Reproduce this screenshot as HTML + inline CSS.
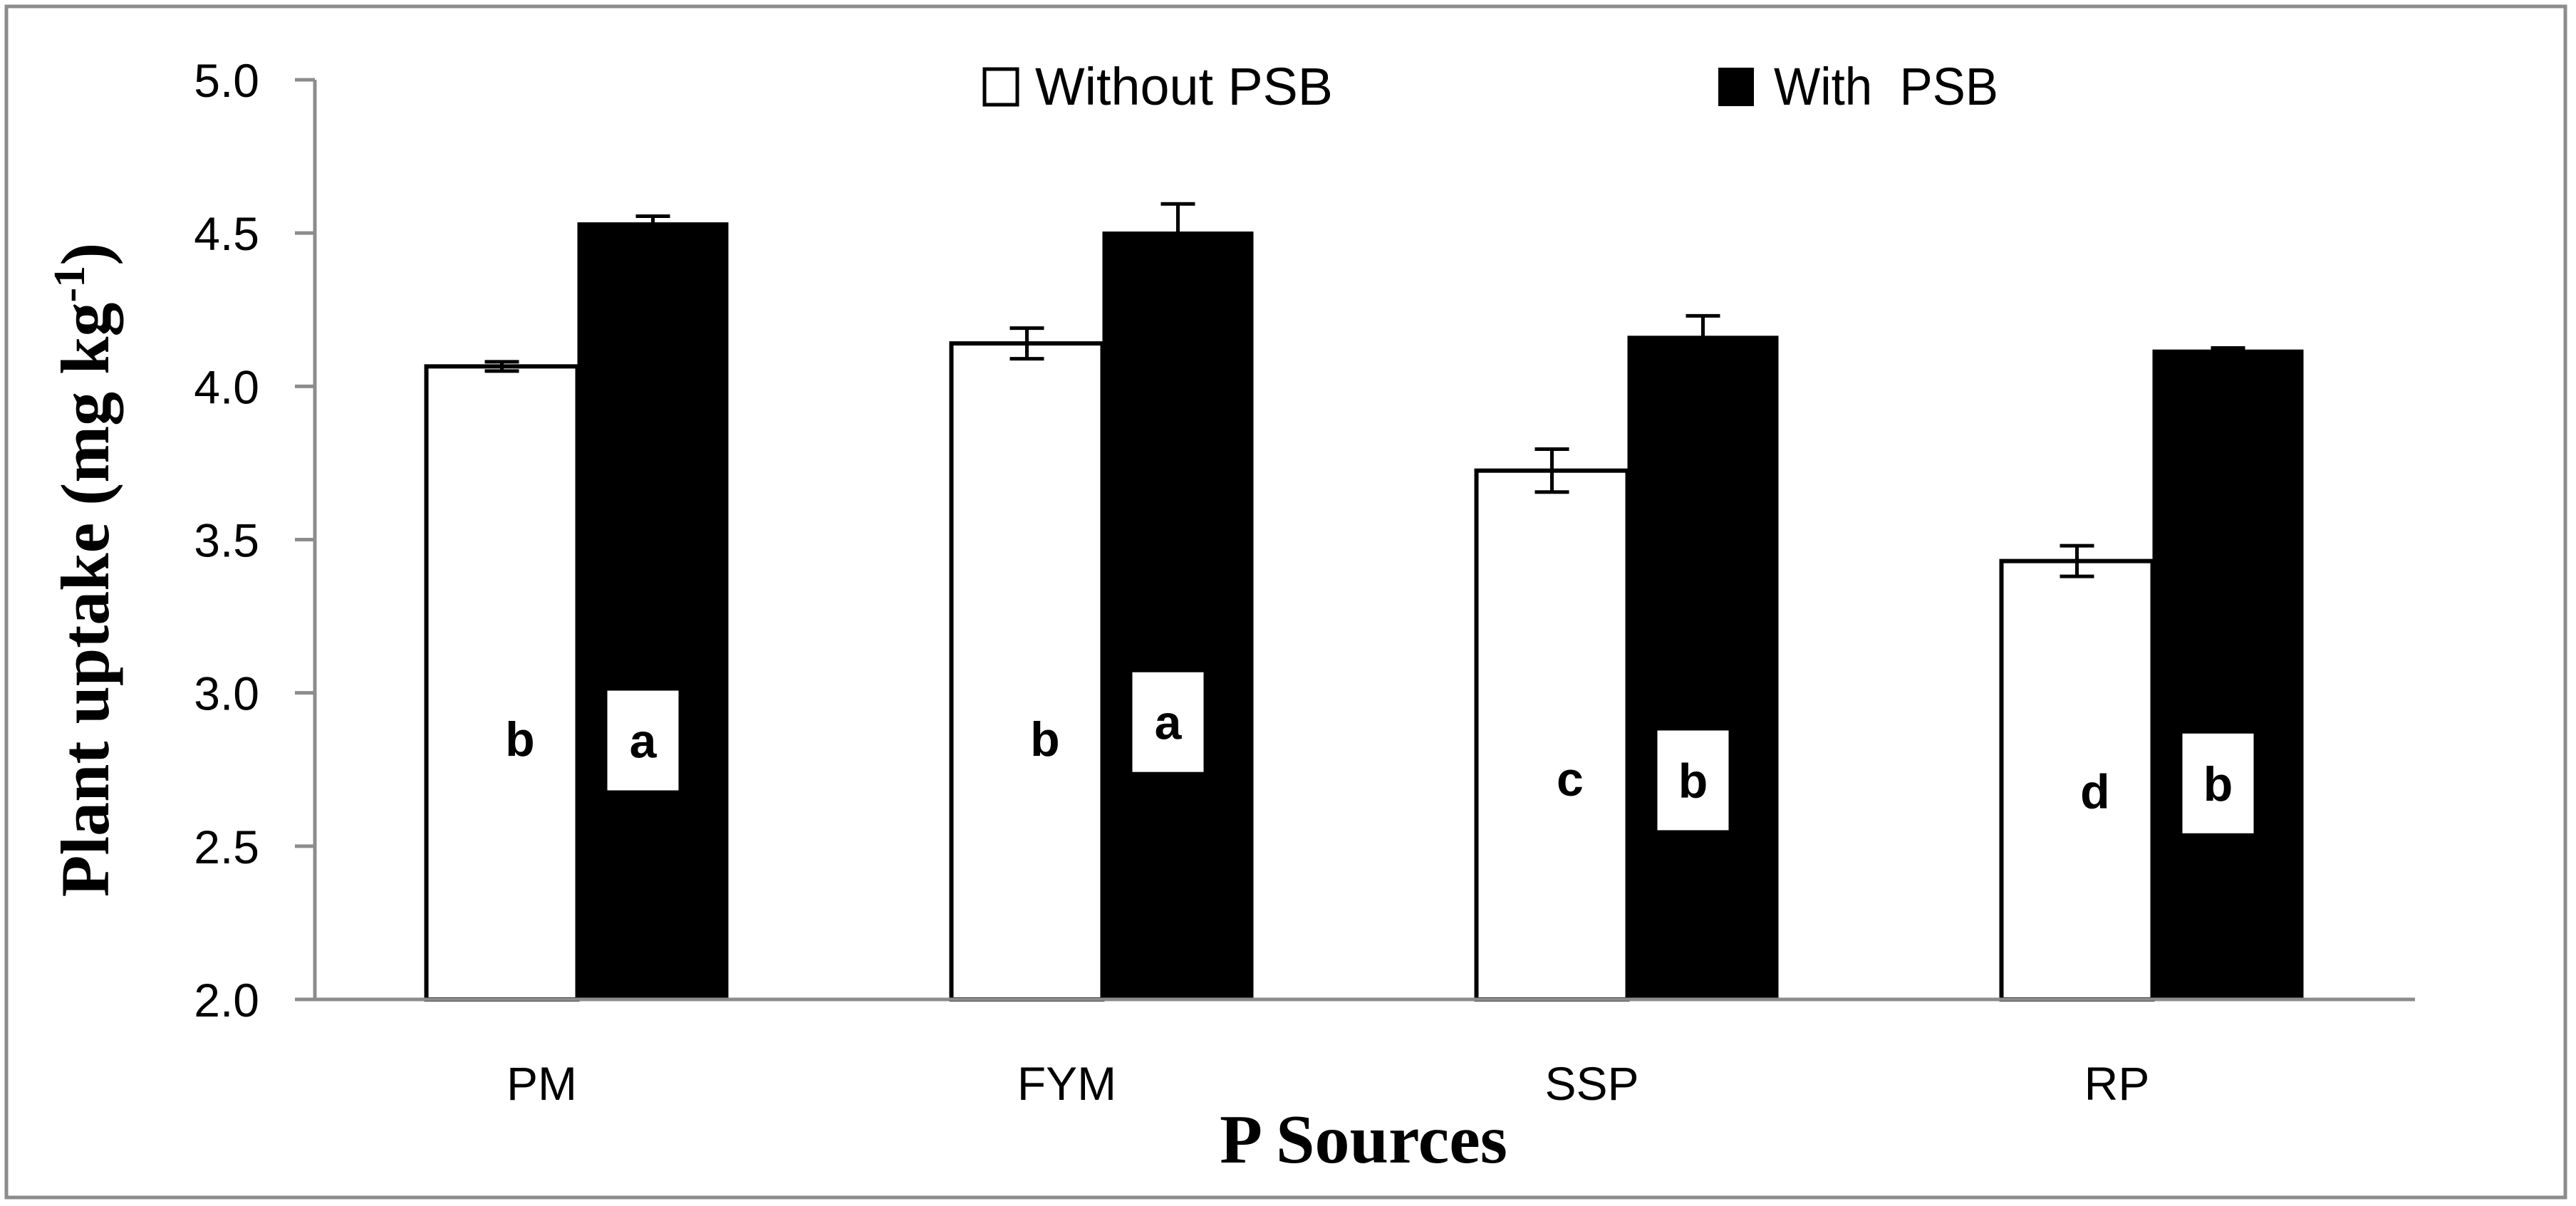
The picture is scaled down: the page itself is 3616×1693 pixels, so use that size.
<!DOCTYPE html>
<html><head><meta charset="utf-8"><style>
html,body{margin:0;padding:0;background:#fff;}
svg{display:block;}
</style></head><body>
<svg id="chart" width="3616" height="1693" viewBox="0 0 3616 1693" xmlns="http://www.w3.org/2000/svg">
<rect x="9" y="9" width="3592" height="1672" fill="#fff" stroke="#8c8c8c" stroke-width="5"/>
<g id="plot"></g>
<text transform="translate(152,800) rotate(-90)" text-anchor="middle" font-family="Liberation Serif, serif" font-weight="bold" font-size="96">Plant uptake (mg kg<tspan baseline-shift="super" font-size="62">-1</tspan>)</text>
<text x="1914" y="1632" text-anchor="middle" font-family="Liberation Serif, serif" font-weight="bold" font-size="98">P Sources</text>
<g>
<rect x="1382" y="97" width="46" height="50" fill="#fff" stroke="#000" stroke-width="5"/>
<text x="1453" y="147" font-family="Liberation Sans, sans-serif" font-size="74" textLength="418" lengthAdjust="spacingAndGlyphs">Without PSB</text>
<rect x="2412" y="95" width="50" height="54" fill="#000"/>
<text x="2490" y="147" font-family="Liberation Sans, sans-serif" font-size="74" textLength="315" lengthAdjust="spacingAndGlyphs" xml:space="preserve">With  PSB</text>
</g>
</svg>
<script>
const categories = ["PM", "FYM", "SSP", "RP"];
const withoutPSB = [4.065, 4.14, 3.725, 3.43];
const withPSB = [4.535, 4.505, 4.165, 4.12];
const errWithout = [0.015, 0.05, 0.07, 0.05];
const errWith = [0.02, 0.09, 0.065, 0.005];
const lettersWithout = ["b", "b", "c", "d"];
const lettersWith = ["a", "a", "b", "b"];
const letterPosWithout = [2.85, 2.85, 2.72, 2.68];
const letterPosWith = [2.84, 2.9, 2.71, 2.7];
const yTicks = [2.0, 2.5, 3.0, 3.5, 4.0, 4.5, 5.0];

const NS = "http://www.w3.org/2000/svg";
const plot = document.getElementById("plot");
const X0 = 442, X1 = 3390, Y0 = 1403, Y1 = 112, VMIN = 2, VMAX = 5;
function y(v){ return Y0 - (v - VMIN) / (VMAX - VMIN) * (Y0 - Y1); }
const catW = (X1 - X0) / categories.length;
function cx(i){ return X0 + catW * (i + 0.5); }
const barW = 212;
function mk(tag, attrs){ const e = document.createElementNS(NS, tag); for (const k in attrs) e.setAttribute(k, attrs[k]); plot.appendChild(e); return e; }

let e;
e = mk("line", {x1:X0, y1:Y1, x2:X0, y2:Y0, stroke:"#8c8c8c", "stroke-width":5});


yTicks.forEach(t => {
  const l = mk("line", {x1:X0-28, y1:y(t), x2:X0, y2:y(t), stroke:"#8c8c8c", "stroke-width":5});
  
  
  const tx = mk("text", {x:364, y:y(t)+24, "text-anchor":"end", "font-family":"Liberation Sans, sans-serif", "font-size":66});
  tx.textContent = t.toFixed(1);
  
  
});

categories.forEach((c, i) => {
  const wx = cx(i) - barW, bx = cx(i);
  const w = mk("rect", {x:wx, y:y(withoutPSB[i]), width:barW, height:Y0 - y(withoutPSB[i]), fill:"#fff", stroke:"#000", "stroke-width":6});
  
  
  const b = mk("rect", {x:bx, y:y(withPSB[i]), width:barW, height:Y0 - y(withPSB[i]), fill:"#000"});
  
  
  [[wx + barW/2, withoutPSB[i], errWithout[i], 'error-bar-without-psb'], [bx + barW/2, withPSB[i], errWith[i], 'error-bar-with-psb']].forEach(([ex, v, er, nm]) => {
    const g = document.createElementNS(NS, "path");
    const yt = y(v + er), yb = y(v - er);
    g.setAttribute("d", `M${ex-24},${yt}H${ex+24}M${ex},${yt}V${yb}M${ex-24},${yb}H${ex+24}`);
    g.setAttribute("stroke", "#000");
    g.setAttribute("stroke-width", 5);
    g.setAttribute("fill", "none");
    
    
    plot.appendChild(g);
  });
  const lw = mk("text", {x:wx + barW*0.62, y:y(letterPosWithout[i]) + 24, "text-anchor":"middle", "font-family":"Liberation Sans, sans-serif", "font-weight":"bold", "font-size":68});
  lw.textContent = lettersWithout[i];
  
  
  const bxBox = bx + 42;
  const bb = mk("rect", {x:bxBox, y:y(letterPosWith[i]) - 72, width:100, height:140, fill:"#fff"});
  
  
  const lb = mk("text", {x:bxBox + 50, y:y(letterPosWith[i]) + 22, "text-anchor":"middle", "font-family":"Liberation Sans, sans-serif", "font-weight":"bold", "font-size":68});
  lb.textContent = lettersWith[i];
  
  
  const cl = mk("text", {x:cx(i) - 50, y:1544, "text-anchor":"middle", "font-family":"Liberation Sans, sans-serif", "font-size":66});
  cl.textContent = c;
  
  
});
e = mk("line", {x1:X0-28, y1:Y0, x2:X1, y2:Y0, stroke:"#8c8c8c", "stroke-width":5});


</script>
</body></html>
